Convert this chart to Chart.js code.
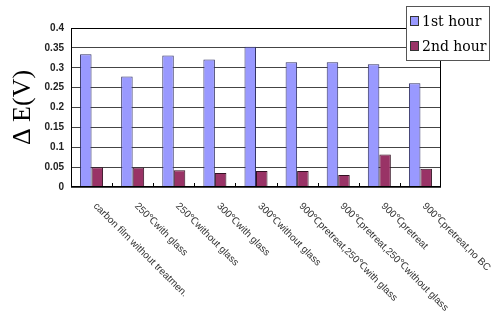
<!DOCTYPE html>
<html>
<head>
<meta charset="utf-8">
<script src="https://cdn.jsdelivr.net/npm/chart.js@4/dist/chart.umd.min.js"></script>
<style>
  html, body { margin: 0; padding: 0; background: #fff; }
  #wrap { width: 500px; height: 327px; }
</style>
</head>
<body>
<div id="wrap"><canvas id="chart" width="500" height="327"></canvas></div>
<script>
'use strict';

const samples = [
  'carbon film without treatmen.',
  '250\u2103with glass',
  '250\u2103without glass',
  '300\u2103with glass',
  '300\u2103without glass',
  '900\u2103pretreat,250\u2103with glass',
  '900\u2103pretreat,250\u2103without glass',
  '900\u2103pretreat',
  '900\u2103pretreat,no BC'
];
const firstHour = [0.334, 0.278, 0.331, 0.321, 0.353, 0.314, 0.314, 0.309, 0.261];
const secondHour = [0.050, 0.049, 0.042, 0.035, 0.040, 0.040, 0.030, 0.082, 0.046];
const yTicks = [0, 0.05, 0.1, 0.15, 0.2, 0.25, 0.3, 0.35, 0.4];

let canvasElem = document.getElementById('chart');

// white plot area, frame, and the little inward ticks between categories
const frame = {
  id: 'frame',
  beforeDraw(chart) {
    const { ctx, chartArea: a } = chart;
    ctx.save();
    ctx.fillStyle = '#fff';
    ctx.fillRect(a.left, a.top, a.right - a.left, a.bottom - a.top);
    ctx.restore();
  },
  afterDatasetsDraw(chart) {
    const { ctx, chartArea: a } = chart;
    const x = chart.scales.x;
    ctx.save();
    ctx.strokeStyle = '#000';
    ctx.lineWidth = 1;
    ctx.strokeRect(Math.round(a.left) + 0.5, Math.round(a.top) + 0.5,
      Math.round(a.right - a.left) - 1, Math.round(a.bottom - a.top) - 1);
    ctx.beginPath();
    for (let i = 0; i < samples.length - 1; i++) {
      const bx = Math.round((x.getPixelForValue(i) + x.getPixelForValue(i + 1)) / 2) + 0.5;
      ctx.moveTo(bx, a.bottom);
      ctx.lineTo(bx, a.bottom - 4);
    }
    ctx.stroke();
    ctx.restore();
  }
};

// slanted category names, reading down to the right from each category
const slantLabels = {
  id: 'slantLabels',
  afterDraw(chart) {
    const { ctx, chartArea: a } = chart;
    const x = chart.scales.x;
    ctx.save();
    ctx.font = '10px "Liberation Sans", Arial, sans-serif';
    ctx.fillStyle = '#333';
    ctx.textAlign = 'left';
    ctx.textBaseline = 'top';
    samples.forEach((s, i) => {
      ctx.save();
      ctx.translate(x.getPixelForValue(i) + 7, a.bottom + 14);
      ctx.rotate(Math.PI / 4);
      ctx.fillText(s, 0, 0);
      ctx.restore();
    });
    ctx.restore();
  }
};

// boxed legend sitting over the top-right corner of the plot
const boxLegend = {
  id: 'boxLegend',
  afterDraw(chart) {
    const ctx = chart.ctx;
    const left = 406, top = 6, w = 83, h = 54;
    ctx.save();
    ctx.fillStyle = '#fff';
    ctx.fillRect(left, top, w, h);
    ctx.strokeStyle = '#555';
    ctx.lineWidth = 1;
    ctx.strokeRect(left + 0.5, top + 0.5, w, h);
    ctx.font = '14px "DejaVu Serif", "Liberation Serif", serif';
    ctx.textBaseline = 'middle';
    ctx.textAlign = 'left';
    chart.data.datasets.forEach((ds, i) => {
      const cy = top + 15 + i * 25;
      ctx.fillStyle = ds.backgroundColor;
      ctx.fillRect(left + 4.5, cy - 4.5, 8, 9);
      ctx.strokeStyle = '#333';
      ctx.strokeRect(left + 4.5, cy - 4.5, 8, 9);
      ctx.fillStyle = '#000';
      ctx.fillText(ds.label, left + 16, cy + 1);
    });
    ctx.restore();
  }
};

function renderChart() {
  const data = {
    labels: samples,
    datasets: [
      {
        label: '1st hour',
        data: firstHour,
        backgroundColor: '#9999FF',
        borderColor: '#333366',
        borderWidth: 1,
      },
      {
        label: '2nd hour',
        data: secondHour,
        backgroundColor: '#993366',
        borderColor: '#331122',
        borderWidth: 1,
      },
    ],
  };

  const config = {
    type: 'bar',
    data: data,
    options: {
      responsive: false,
      animation: false,
      layout: { padding: { top: 28, right: 59, bottom: 140, left: 0 } },
      datasets: { bar: { categoryPercentage: 0.56, barPercentage: 1.0 } },
      plugins: { legend: { display: false }, tooltip: { enabled: false } },
      scales: {
        x: {
          ticks: { display: false },
          grid: { display: false },
          border: { display: false },
          afterFit(scale) { scale.height = 0; }
        },
        y: {
          min: 0,
          max: 0.4,
          afterBuildTicks(scale) { scale.ticks = yTicks.map(v => ({ value: v })); },
          afterFit(scale) { scale.width = 71; },
          ticks: {
            padding: 7,
            color: '#222',
            font: { family: '"Liberation Sans", Arial, sans-serif', size: 10, weight: 'bold' },
            callback: v => String(+v.toFixed(2))
          },
          grid: { color: '#444', drawTicks: false },
          border: { display: false },
          title: {
            display: true,
            text: '\u0394 E(V)',
            color: '#000',
            padding: { top: 8, bottom: 0 },
            font: { family: '"Liberation Serif", "DejaVu Serif", serif', size: 26 }
          }
        }
      }
    },
    plugins: [frame, slantLabels, boxLegend]
  };
  const myChart = new Chart(canvasElem, config);
}

renderChart();
</script>
</body>
</html>
